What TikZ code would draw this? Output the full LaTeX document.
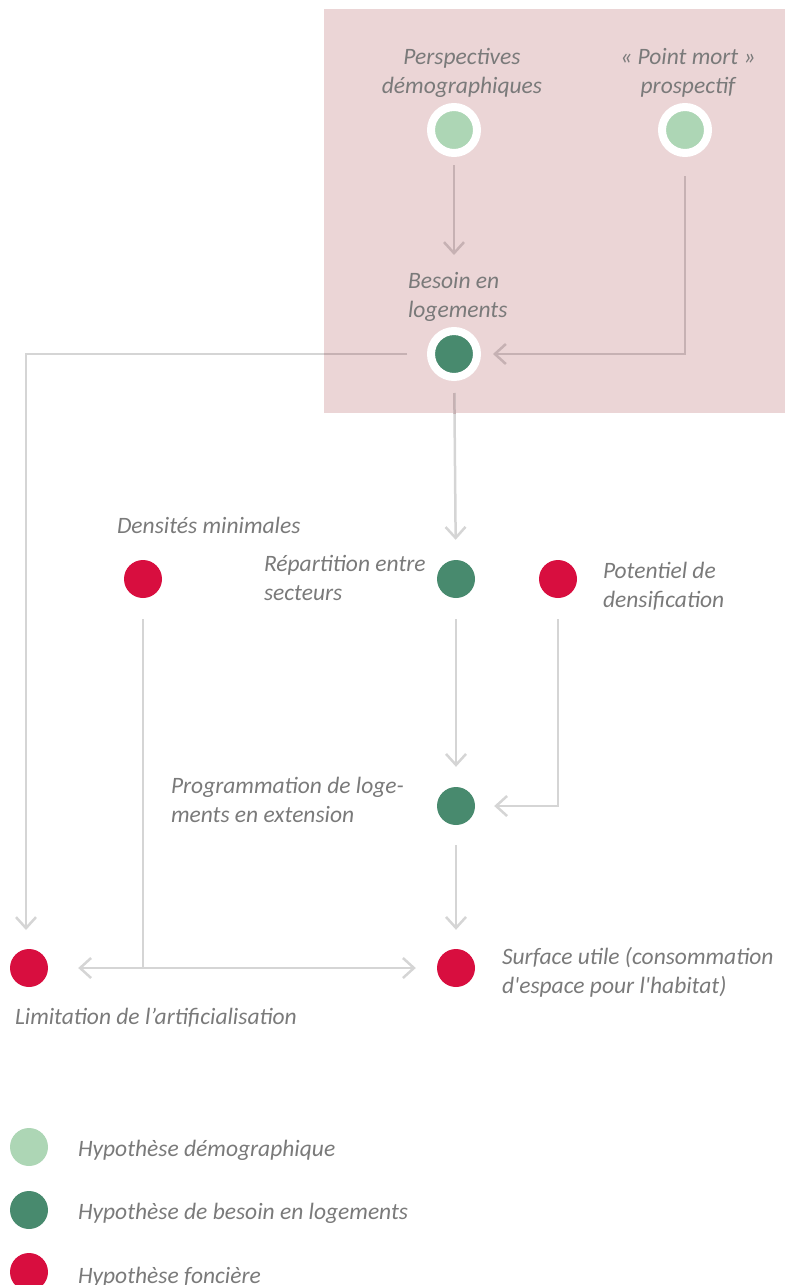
\documentclass[tikz,border=0pt]{standalone}
\usepackage{fontspec}
\setmainfont{Carlito}[Ligatures=TeXOff]
\usetikzlibrary{arrows.meta}
\definecolor{pinkbg}{HTML}{EBD5D6}
\definecolor{lightgreen}{HTML}{ADD6B5}
\definecolor{darkgreen}{HTML}{488A6E}
\definecolor{redfon}{HTML}{D80E3F}
\definecolor{linegray}{HTML}{D5D5D5}
\definecolor{linepink}{HTML}{C6B1B3}
\definecolor{txt}{HTML}{7A7A7A}
\tikzset{
  lbl/.style={font=\itshape\fontsize{23.5}{29}\selectfont, text=txt, inner sep=0pt, outer sep=0pt,
    execute at begin node=\strut, execute at end node=\strut},
  dot/.style={circle, minimum size=38pt, inner sep=0pt, fill=#1},
  ringdot/.style={circle, minimum size=46pt, inner sep=0pt, fill=#1, draw=white, line width=8pt},
  conn/.style={draw=#1, line width=2.5pt, -{Straight Barb[length=11pt,width=20pt]}},
  conn/.default=linegray,
  plain/.style={draw=#1, line width=2.5pt},
  plain/.default=linegray,
  dbl/.style={draw=linegray, line width=2.5pt, {Straight Barb[length=11pt,width=20pt]}-{Straight Barb[length=11pt,width=20pt]}}
}
\begin{document}
\begin{tikzpicture}[x=1pt,y=-1pt]
\useasboundingbox (0,0) rectangle (785,1285);
\fill[pinkbg] (324,9) rectangle (785,413);
% nodes
\node[ringdot=lightgreen] (persp) at (454,130) {};
\node[ringdot=lightgreen] (pmort) at (685,130) {};
\node[ringdot=darkgreen] (besoin) at (454,354) {};
\node[dot=redfon] (dens) at (143,579) {};
\node[dot=darkgreen] (repart) at (456,579) {};
\node[dot=redfon] (potent) at (558,579) {};
\node[dot=darkgreen] (prog) at (456,806) {};
\node[dot=redfon] (surf) at (456,968) {};
\node[dot=redfon] (limit) at (29,968) {};
\node[dot=lightgreen] (leg1) at (29,1147) {};
\node[dot=darkgreen] (leg2) at (29,1210) {};
\node[dot=redfon] (leg3) at (29,1272) {};
% labels
\node[lbl, align=center, anchor=north] (lpersp) at (462,48.7) {Perspectives\\démographiques};
\node[lbl, align=center, anchor=north] (lpmort) at (688,48.7) {« Point mort »\\prospectif};
\node[lbl, align=left, anchor=north west] (lbesoin) at (408,272) {Besoin en\\logements};
\node[lbl, anchor=north west] (ldens) at (117,513) {Densités minimales};
\node[lbl, align=left, anchor=north west] (lrepart) at (264,555) {Répartition entre\\secteurs};
\node[lbl, align=left, anchor=north west] (lpot) at (603,562.5) {Potentiel de\\densification};
\node[lbl, align=left, anchor=north west] (lprog) at (171,777) {Programmation de loge-\\ments en extension};
\node[lbl, align=left, anchor=north west] (lsurf) at (502,947) {Surface utile (consommation\\d'espace pour l'habitat)};
\node[lbl, anchor=north west] (llimit) at (15,1004) {Limitation de l’artificialisation};
\node[lbl, anchor=north west] (lleg1) at (78,1136.5) {Hypothèse démographique};
\node[lbl, anchor=north west] (lleg2) at (78,1199) {Hypothèse de besoin en logements};
\node[lbl, anchor=north west] (lleg3) at (78,1263) {Hypothèse foncière};
% coordinates
\coordinate (tipb) at (454,255);
\coordinate (tiplim) at (26,930);
\coordinate (junc) at (143,968);
% connectors
\draw[conn=linepink, shorten <=8pt] (persp) -- (tipb);
\draw[conn=linepink, shorten <=19pt, shorten >=12pt] (pmort) |- (besoin);
\draw[conn, shorten <=20pt] (besoin) -| (tiplim);
\draw[conn, shorten <=12pt, shorten >=20pt] (besoin) -- (repart);
\begin{scope}
\clip (324,9) rectangle (785,413);
\draw[plain=linepink, shorten <=20pt] (besoin) -| (tiplim);
\draw[plain=linepink, shorten <=12pt] (besoin) -- (repart);
\end{scope}
\draw[conn, shorten <=21pt, shorten >=20pt] (repart) -- (prog);
\draw[conn, shorten <=21pt, shorten >=19pt] (potent) |- (prog);
\draw[conn, shorten <=20pt, shorten >=19pt] (prog) -- (surf);
\draw[plain, shorten <=21pt] (dens) -- (junc);
\draw[dbl, shorten <=30pt, shorten >=21pt] (limit) -- (surf);
\end{tikzpicture}
\end{document}
